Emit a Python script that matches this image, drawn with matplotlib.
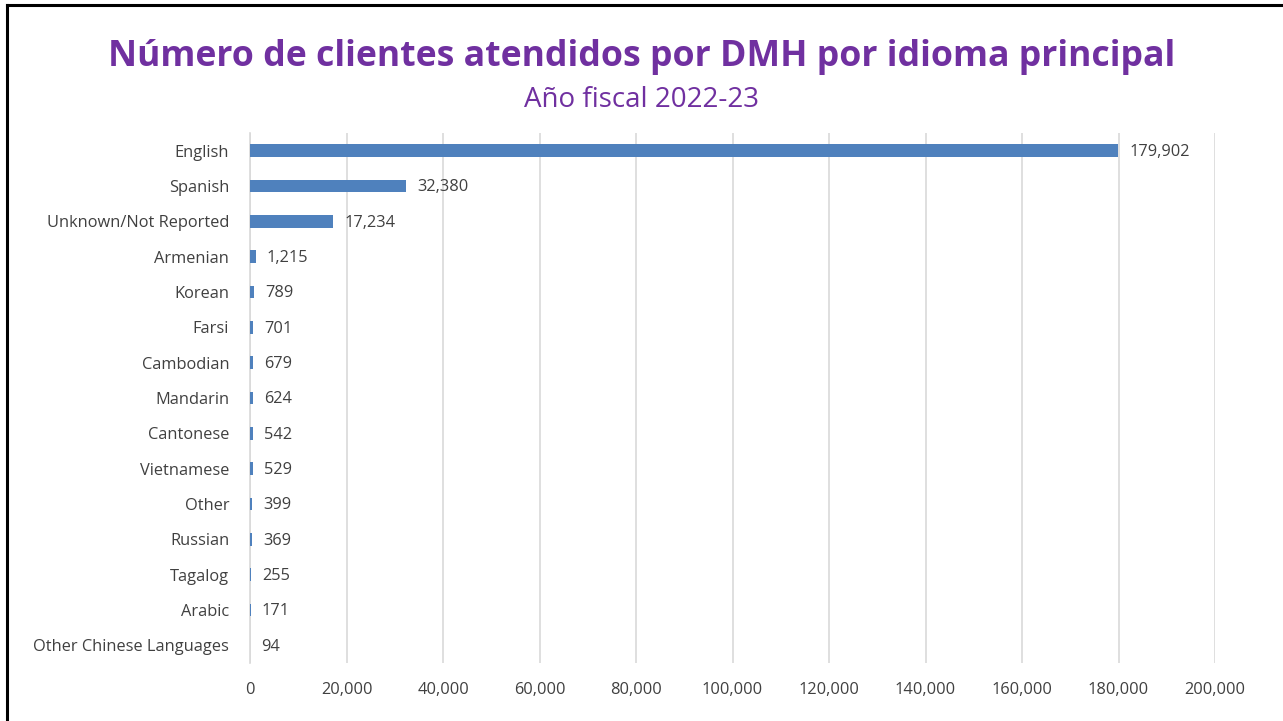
import matplotlib
matplotlib.use("Agg")
import matplotlib.pyplot as plt
from matplotlib.lines import Line2D

categories = ["English", "Spanish", "Unknown/Not Reported", "Armenian", "Korean", "Farsi",
              "Cambodian", "Mandarin", "Cantonese", "Vietnamese", "Other", "Russian",
              "Tagalog", "Arabic", "Other Chinese Languages"]
values = [179902, 32380, 17234, 1215, 789, 701, 679, 624, 542, 529, 399, 369, 255, 171, 94]
xticks = [0, 20000, 40000, 60000, 80000, 100000, 120000, 140000, 160000, 180000, 200000]

title = "Número de clientes atendidos por DMH por idioma principal"
subtitle = "Año fiscal 2022-23"

plt.rcParams['font.family'] = ['Open Sans', 'DejaVu Sans']
purple = "#7030A0"
txt = "#404040"
fs = 11.8

fig = plt.figure(figsize=(12.83, 7.21), dpi=100)
ax = fig.add_axes([250/1283, 1-663/721, (1215-250)/1283, (663-133)/721])

y = list(range(len(categories)))
ax.barh(y, values, height=0.35, color="#4F81BD", zorder=3)
ax.set_ylim(len(categories)-0.5, -0.5)
ax.set_xlim(0, 200000)
ax.set_yticks(y)
ax.set_yticklabels(categories, fontsize=fs, color=txt)
ax.set_xticks(xticks)
ax.set_xticklabels([f"{v:,}" for v in xticks], fontsize=fs, color=txt)
ax.tick_params(axis='both', length=0)
ax.tick_params(axis='y', pad=15)
ax.tick_params(axis='x', pad=14)
ax.grid(axis='x', color="#D9D9D9", linewidth=1.2, zorder=0)
for s in ["top", "right", "bottom"]:
    ax.spines[s].set_visible(False)
ax.spines["left"].set_color("#D9D9D9")
ax.spines["left"].set_linewidth(1.2)

for yi, v in zip(y, values):
    ax.annotate(f"{v:,}", (v, yi), xytext=(8, -1), textcoords="offset points",
                va="center", ha="left", fontsize=fs, color=txt)

fig.text(0.5, 1-57/721, title, ha="center", va="center", fontsize=25.7, fontweight="bold", color=purple)
fig.text(0.5, 1-100/721, subtitle, ha="center", va="center", fontsize=20, color=purple)

fig.add_artist(Line2D([7/1283, 7/1283], [0, 1-5/721], transform=fig.transFigure, color="black", linewidth=2.2))
fig.add_artist(Line2D([7/1283, 1], [1-5/721, 1-5/721], transform=fig.transFigure, color="black", linewidth=2.2))

fig.savefig("out.png", dpi=100)
